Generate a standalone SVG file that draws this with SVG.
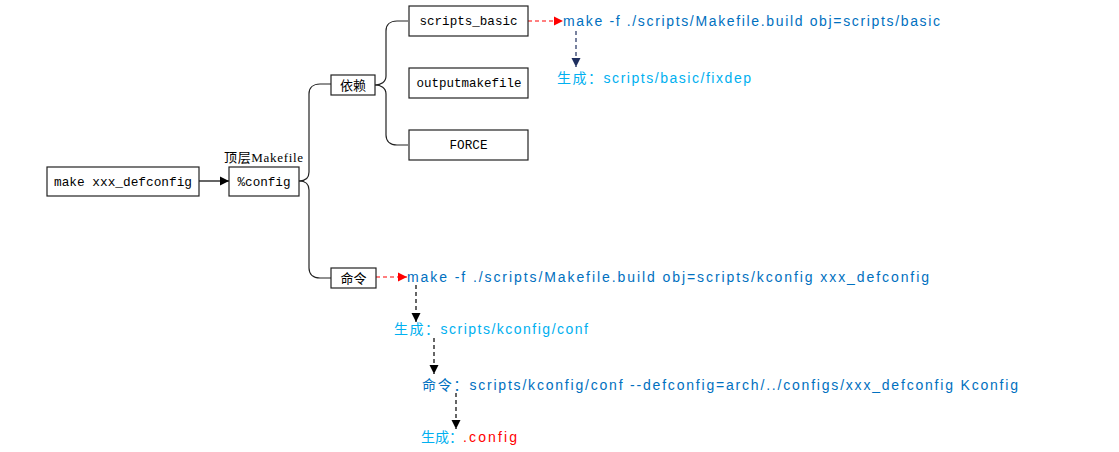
<svg xmlns="http://www.w3.org/2000/svg" width="1119" height="452" viewBox="0 0 1119 452">
<style>
.box{fill:#fff;stroke:#222;stroke-width:1.2}
.mono{font-family:"Liberation Mono","DejaVu Sans Mono",monospace;font-size:13.5px;fill:#000;text-anchor:middle}
.cjk{font-family:"Noto Sans CJK SC",sans-serif;font-size:13px;fill:#000;text-anchor:middle}
.ser{font-family:"Liberation Serif","Noto Sans CJK SC",serif;font-size:13px;fill:#000}
.cmd{font-family:"Liberation Sans","Noto Sans CJK SC",sans-serif;font-size:14px;fill:#0070C0}
.gen{font-family:"Liberation Sans","Noto Sans CJK SC",sans-serif;font-size:14px;fill:#00B0F0}
.red{font-family:"Liberation Sans","Noto Sans CJK SC",sans-serif;font-size:14px;fill:#FF0000}
.brace{fill:none;stroke:#222;stroke-width:1.2}
</style>
<defs>
<marker id="ab" markerUnits="userSpaceOnUse" markerWidth="10" markerHeight="10" refX="9" refY="5" orient="auto"><path d="M0,0.5 L9,5 L0,9.5 Z" fill="#000"/></marker>
<marker id="ar" markerUnits="userSpaceOnUse" markerWidth="10" markerHeight="10" refX="9" refY="5" orient="auto"><path d="M0,0.5 L9,5 L0,9.5 Z" fill="#FF0000"/></marker>
<marker id="an" markerUnits="userSpaceOnUse" markerWidth="10" markerHeight="10" refX="9" refY="5" orient="auto"><path d="M0,0.5 L9,5 L0,9.5 Z" fill="#1F2F5F"/></marker>
</defs>

<g id="connectors">
<line x1="199" y1="181" x2="229" y2="181" stroke="#000" stroke-width="1.2" marker-end="url(#ab)"/>
<path class="brace" d="M299,181 C305,181 309,178 309,172 V94 C309,88 313,84 320,84 H331"/>
<path class="brace" d="M299,181 C305,181 309,184 309,190 V268 C309,274 313,278 320,278 H331"/>
<path class="brace" d="M375,85 C381,85 386,82 386,76 V31 C386,25 390,21 397,21 H408"/>
<path class="brace" d="M375,85 C381,85 386,88 386,94 V135 C386,141 390,145 397,145 H408"/>
<line x1="528" y1="21" x2="563" y2="21" stroke="#FF0000" stroke-width="1.2" stroke-dasharray="4,3" marker-end="url(#ar)"/>
<line x1="576" y1="31" x2="576" y2="67" stroke="#1F2F5F" stroke-width="1.2" stroke-dasharray="4,3" marker-end="url(#an)"/>
<line x1="376" y1="277" x2="407" y2="277" stroke="#FF0000" stroke-width="1.2" stroke-dasharray="4,3" marker-end="url(#ar)"/>
<line x1="416" y1="285" x2="416" y2="322" stroke="#000" stroke-width="1.2" stroke-dasharray="4,3" marker-end="url(#ab)"/>
<line x1="434" y1="338" x2="434" y2="374" stroke="#000" stroke-width="1.2" stroke-dasharray="4,3" marker-end="url(#ab)"/>
<line x1="456" y1="393" x2="456" y2="429" stroke="#000" stroke-width="1.2" stroke-dasharray="4,3" marker-end="url(#ab)"/>
</g>

<g id="node-make">
<rect class="box" x="47" y="167" width="152" height="29"/>
<text class="mono" x="123" y="186" textLength="138" lengthAdjust="spacingAndGlyphs">make xxx_defconfig</text>
</g>

<g id="node-config">
<text class="ser" x="224" y="162" textLength="79">顶层Makefile</text>
<rect class="box" x="229" y="167" width="70" height="29"/>
<text class="mono" x="264" y="186" textLength="53" lengthAdjust="spacingAndGlyphs">%config</text>
</g>

<g id="node-yilai">
<rect class="box" x="331" y="75" width="44" height="20"/>
<text class="cjk" x="353" y="90">依赖</text>
</g>

<g id="node-mingling">
<rect class="box" x="331" y="268" width="45" height="20"/>
<text class="cjk" x="353.5" y="283">命令</text>
</g>

<g id="node-scripts-basic">
<rect class="box" x="409" y="6" width="119" height="30"/>
<text class="mono" x="468.5" y="25" textLength="98" lengthAdjust="spacingAndGlyphs">scripts_basic</text>
</g>

<g id="node-outputmakefile">
<rect class="box" x="409" y="68" width="119" height="30"/>
<text class="mono" x="469" y="87" textLength="105" lengthAdjust="spacingAndGlyphs">outputmakefile</text>
</g>

<g id="node-force">
<rect class="box" x="409" y="130" width="119" height="30"/>
<text class="mono" x="468.5" y="149" textLength="38" lengthAdjust="spacingAndGlyphs">FORCE</text>
</g>

<g id="node-cmd-basic">
<text class="cmd" x="563" y="26" textLength="377">make -f ./scripts/Makefile.build obj=scripts/basic</text>
</g>

<g id="node-gen-fixdep">
<text class="gen" x="557" y="83" textLength="194">生成：scripts/basic/fixdep</text>
</g>

<g id="node-cmd-kconfig">
<text class="cmd" x="407" y="282" textLength="522">make -f ./scripts/Makefile.build obj=scripts/kconfig xxx_defconfig</text>
</g>

<g id="node-gen-conf">
<text class="gen" x="394" y="334" textLength="194">生成：scripts/kconfig/conf</text>
</g>

<g id="node-cmd-conf">
<text class="cmd" x="422" y="390" textLength="596">命令：scripts/kconfig/conf --defconfig=arch/../configs/xxx_defconfig Kconfig</text>
</g>

<g id="node-gen-config">
<text class="gen" x="421" y="442" textLength="42">生成：</text>
<text class="red" x="463" y="442" textLength="54">.config</text>
</g>
</svg>
